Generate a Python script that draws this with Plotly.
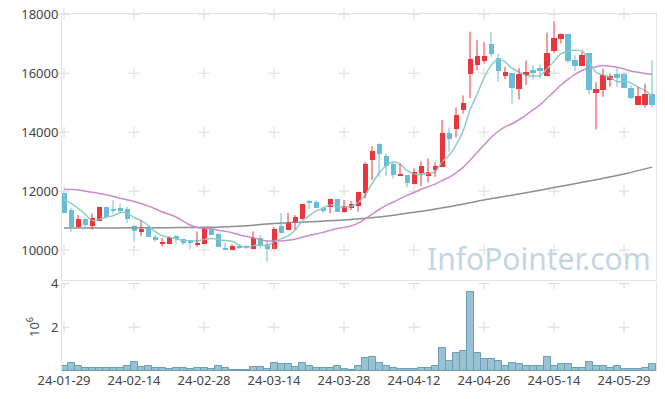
import pandas as pd
import plotly.graph_objects as go
from plotly.subplots import make_subplots

# ---------------- data ----------------
holidays = ["2024-02-09", "2024-02-12", "2024-03-01", "2024-04-10",
            "2024-05-01", "2024-05-06", "2024-05-15", "2024-06-06"]
days = [d for d in pd.bdate_range("2024-01-29", "2024-06-04")
        if d.strftime("%Y-%m-%d") not in holidays]
dates = [d.strftime("%y-%m-%d") for d in days]

opens = [11922, 11356, 10769, 11051, 10825, 10993, 11468, 11380, 11413, 11380,
         10810, 10644, 10790, 10440, 10220, 10193, 10475, 10362, 10330, 10190,
         10215, 10706, 10535, 10060, 10000, 10136, 10124, 10030, 10396, 10203,
         10040, 10820, 10678, 10925, 11040, 11640, 11620, 11435, 11468, 11725,
         11300, 11435, 11510, 11922, 13051, 13593, 13186, 12904, 12519, 12542,
         12227, 12620, 12520, 12712, 12824, 13989, 14091, 14745, 15990, 16271,
         16410, 16983, 16510, 15909, 16000, 15470, 15945, 16115, 16180, 15900,
         16750, 17176, 17345, 16441, 16248, 16689, 15345, 15447, 15785, 15989,
         15989, 15515, 14938, 14938, 15311]
highs = [11960, 11424, 11186, 11096, 11244, 11468, 11468, 11695, 11582, 11468,
         10847, 10993, 10810, 10508, 10410, 10441, 10508, 10380, 10340, 10630,
         10757, 10740, 10560, 10249, 10192, 10170, 10170, 10635, 10508, 10320,
         10780, 11254, 11265, 11186, 11559, 11690, 11695, 11492, 11740, 11725,
         11695, 11661, 11980, 12993, 13525, 13616, 13277, 12960, 12937, 12542,
         12769, 13017, 13108, 12972, 14407, 14159, 14837, 15250, 17410, 17119,
         17061, 17390, 16667, 16214, 16000, 16180, 16430, 16271, 16294, 17379,
         17763, 17345, 17345, 16610, 16723, 16689, 15690, 16158, 15989, 16214,
         15989, 15593, 15537, 15650, 16441]
lows = [11244, 10622, 10769, 10701, 10701, 10993, 11100, 11244, 11244, 10925,
        10282, 10475, 10451, 10282, 10120, 10193, 10226, 10170, 10024, 10113,
        10215, 10500, 10113, 10000, 10000, 10045, 10045, 10030, 10045, 9605,
        10040, 10565, 10678, 10700, 11040, 11380, 11420, 11265, 11243, 11300,
        11265, 11356, 11300, 11752, 12373, 12485, 12508, 12429, 12519, 12125,
        12227, 12169, 12295, 12485, 12824, 13333, 13819, 14633, 15150, 16102,
        16330, 16554, 15705, 15800, 14972, 15110, 15600, 15790, 15820, 15900,
        16689, 17007, 16350, 16079, 16248, 15277, 14090, 15198, 15537, 15537,
        15515, 15119, 14938, 14837, 14858]
closes = [11264, 10769, 11051, 10837, 11085, 11468, 11129, 11312, 11346, 11040,
          10650, 10700, 10451, 10339, 10275, 10441, 10362, 10226, 10255, 10250,
          10706, 10508, 10113, 10030, 10147, 10056, 10080, 10417, 10140, 10040,
          10717, 10587, 10904, 11118, 11559, 11620, 11435, 11328, 11725, 11300,
          11510, 11559, 11955, 12915, 13356, 13254, 12858, 12542, 12576, 12282,
          12634, 12847, 12644, 12847, 13989, 13763, 14576, 15006, 16470, 16580,
          16580, 16655, 16078, 16035, 15502, 15960, 16035, 16011, 16085, 16680,
          17190, 17345, 16418, 16248, 16610, 15447, 15458, 15932, 15898, 15842,
          15515, 15163, 15220, 15311, 14915]
volumes_m = [0.23, 0.35, 0.23, 0.12, 0.12, 0.12, 0.12, 0.12, 0.12, 0.23,
             0.39, 0.18, 0.23, 0.12, 0.12, 0.08, 0.12, 0.12, 0.08, 0.12,
             0.12, 0.08, 0.23, 0.12, 0.06, 0.06, 0.06, 0.17, 0.17, 0.08,
             0.35, 0.30, 0.30, 0.17, 0.35, 0.23, 0.12, 0.12, 0.16, 0.22,
             0.10, 0.06, 0.21, 0.59, 0.65, 0.37, 0.21, 0.15, 0.10, 0.10,
             0.10, 0.15, 0.15, 0.21, 1.04, 0.47, 0.81, 0.90, 3.61, 0.81,
             0.55, 0.55, 0.46, 0.25, 0.37, 0.33, 0.25, 0.21, 0.21, 0.65,
             0.25, 0.33, 0.33, 0.15, 0.15, 0.43, 0.25, 0.21, 0.15, 0.21,
             0.10, 0.10, 0.10, 0.15, 0.30]

ma5_head = [11729, 11580, 11413, 11220]                 # bars 0..3
ma20_head_idx = [0, 2, 4, 6, 8, 10, 12, 14, 16, 18]
ma20_head = [12060, 12040, 11960, 11880, 11760, 11650, 11500, 11300, 11120, 10850]
ma120_idx = [0, 5, 10, 15, 20, 25, 30, 35, 40, 45, 50, 55, 60, 65, 70, 75, 80, 84]
ma120_val = [10750, 10750, 10755, 10760, 10770, 10810, 10900, 10960, 11017, 11120,
             11280, 11470, 11700, 11900, 12120, 12340, 12580, 12814]

price_ticks = [10000, 12000, 14000, 16000, 18000]
vol_ticks = [2, 4]
x_tick_idx = list(range(0, 81, 10))

# ---------------- derived ----------------
cs = pd.Series(closes)
ma5 = ma5_head + cs.rolling(5).mean().iloc[4:].round(1).tolist()
ma20_x = [dates[i] for i in ma20_head_idx] + dates[19:]
ma20_y = ma20_head + cs.rolling(20).mean().iloc[19:].round(1).tolist()
ma120_x = [dates[i] for i in ma120_idx]
volumes = [v * 1e6 for v in volumes_m]
xticks = [dates[i] for i in x_tick_idx]

RED = "#e9363c"
BLUE = "#69bdd6"
GRID = "#dadada"
FONT = "Noto Sans"

fig = make_subplots(rows=2, cols=1, shared_xaxes=True)

# grid crosses
gx, gy = [], []
for xv in xticks:
    for yv in price_ticks:
        gx.append(xv); gy.append(yv)
fig.add_trace(go.Scatter(x=gx, y=gy, mode="markers", hoverinfo="skip",
                         cliponaxis=False,
                         marker=dict(symbol="cross-thin", size=8,
                                     line=dict(color=GRID, width=1))), row=1, col=1)
vx, vy = [], []
for xv in xticks:
    for yv in vol_ticks:
        vx.append(xv); vy.append(yv * 1e6)
fig.add_trace(go.Scatter(x=vx, y=vy, mode="markers", hoverinfo="skip",
                         marker=dict(symbol="cross-thin", size=8,
                                     line=dict(color=GRID, width=1))), row=2, col=1)

fig.add_trace(go.Scatter(x=ma120_x, y=ma120_val, mode="lines", line_shape="spline",
                         line=dict(color="#8e8e8e", width=1.5)), row=1, col=1)
fig.add_trace(go.Scatter(x=ma20_x, y=ma20_y, mode="lines", line_shape="spline",
                         line=dict(color="#cc8cc8", width=1.5)), row=1, col=1)
fig.add_trace(go.Scatter(x=dates, y=ma5, mode="lines", line_shape="spline",
                         line=dict(color="#8ccfc6", width=1.5)), row=1, col=1)

# candles: wicks + bodies
for up, color in ((True, RED), (False, BLUE)):
    idx = [i for i in range(len(dates)) if (closes[i] >= opens[i]) == up]
    wx, wy = [], []
    for i in idx:
        wx += [dates[i], dates[i], None]
        wy += [lows[i], highs[i], None]
    fig.add_trace(go.Scatter(x=wx, y=wy, mode="lines", hoverinfo="skip",
                             line=dict(color=color, width=1)), row=1, col=1)
    fig.add_trace(go.Bar(x=[dates[i] for i in idx],
                         base=[min(opens[i], closes[i]) for i in idx],
                         y=[max(abs(closes[i] - opens[i]), 25) for i in idx],
                         width=0.72,
                         marker=dict(color=color, line=dict(width=0))),
                  row=1, col=1)

fig.add_trace(go.Bar(x=dates, y=volumes,
                     marker=dict(color="#9bc2d3", line=dict(color="#6b9db3", width=1))),
              row=2, col=1)

fig.add_annotation(text="InfoPointer.com", xref="paper", yref="paper",
                   x=0.803, y=0.316, xanchor="center", yanchor="middle",
                   showarrow=False,
                   font=dict(family=FONT, size=30, color="#c2d6e2"))

axis_common = dict(showgrid=False, zeroline=False, linecolor="#e2e2e2",
                   automargin=False, ticklabeloverflow="allow",
                   tickfont=dict(family=FONT, size=13, color="#444"))

fig.update_xaxes(type="category", categoryorder="array", categoryarray=dates,
                 range=[-0.29, 84.57], tickmode="array", tickvals=xticks,
                 ticktext=xticks, ticks="", **axis_common)
fig.update_xaxes(showline=True, mirror=True, showticklabels=False, row=1, col=1)
fig.update_xaxes(showline=False, row=2, col=1)

fig.update_yaxes(range=[8985, 18010], tickmode="array", tickvals=price_ticks,
                 ticktext=[str(v) for v in price_ticks], domain=[0.255, 1.0],
                 showline=True, mirror=True, ticks="", row=1, col=1, **axis_common)
fig.update_yaxes(range=[0, 4.02e6], tickmode="array",
                 tickvals=[v * 1e6 for v in vol_ticks],
                 ticktext=[str(v) for v in vol_ticks], domain=[0.0, 0.2465],
                 showline=True, mirror=True, ticks="",
                 title=dict(text="10<sup>6</sup>", standoff=8,
                            font=dict(family=FONT, size=13, color="#444")),
                 row=2, col=1, **axis_common)

fig.update_layout(width=665, height=399, showlegend=False,
                  margin=dict(l=62, r=9, t=14, b=28),
                  paper_bgcolor="white", plot_bgcolor="white",
                  barmode="overlay", bargap=0, font=dict(family=FONT))

# remove the page's default 8px body margin so the figure sits at the window origin
fig.write_html("out.html", config={"displayModeBar": False},
               post_script="document.body.style.margin='0';")
